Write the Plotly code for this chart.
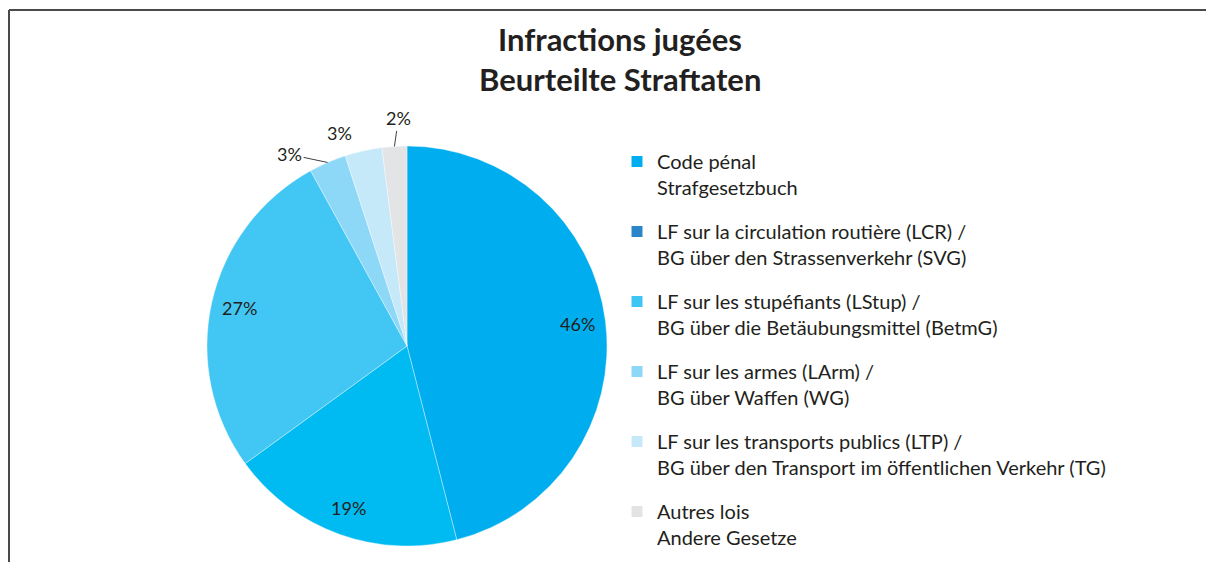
import math
import plotly.graph_objects as go

# ---- data ----
categories = [
    "Code pénal<br>Strafgesetzbuch",
    "LF sur la circulation routière (LCR) /<br>BG über den Strassenverkehr (SVG)",
    "LF sur les stupéfiants (LStup) /<br>BG über die Betäubungsmittel (BetmG)",
    "LF sur les armes (LArm) /<br>BG über Waffen (WG)",
    "LF sur les transports publics (LTP) /<br>BG über den Transport im öffentlichen Verkehr (TG)",
    "Autres lois<br>Andere Gesetze",
]
values = [46, 19, 27, 3, 3, 2]
pct_labels = ["46%", "19%", "27%", "3%", "3%", "2%"]

# ---- styles ----
slice_colors = ["#00AEEF", "#00BBF1", "#42C7F4", "#8DD7F7", "#C6E9FA", "#E3E4E5"]
legend_colors = ["#00AEEF", "#2A86C8", "#3EC5F3", "#8DD7F7", "#C6E9FA", "#E2E3E4"]
# label offsets (px) for the small slices: (dx, dy, show_leader)
small_offsets = {3: (-38, -8, True), 4: (-24, -18, False), 5: (4, -28, True)}

# page has an 8px body margin: figure is drawn from (8, 8)
OFF = 8
W, H = 1206, 554
FONT = "Lato"
TXT = "#231F20"


def px(xr):
    return (xr - OFF) / W


def py(yr):
    return 1 - (yr - OFF) / H


# pie placement (reference screen pixels)
cx_px, cy_px, R_px = 407, 346, 200
dom_x = [px(cx_px - R_px), px(cx_px + R_px)]
dom_y = [py(cy_px + R_px), py(cy_px - R_px)]

fig = go.Figure()
fig.add_trace(go.Pie(
    labels=categories,
    values=values,
    sort=False,
    direction="clockwise",
    rotation=0,
    marker=dict(colors=slice_colors, line=dict(color="rgba(255,255,255,0.6)", width=0.6)),
    textinfo="none",
    hoverinfo="label+percent",
    showlegend=False,
    domain=dict(x=dom_x, y=dom_y),
))

# legend entries (separate so legend colours match the reference)
for i, (name, col) in enumerate(zip(categories, legend_colors)):
    fig.add_trace(go.Scatter(
        x=[None], y=[None], mode="markers", name=name,
        marker=dict(symbol="square", size=11, color=col),
        legendgroup=f"g{i}", showlegend=True, hoverinfo="skip",
    ))

# percentage labels derived from the data
total = sum(values)
cx_p = (dom_x[0] + dom_x[1]) / 2
cy_p = (dom_y[0] + dom_y[1]) / 2
cum = 0
annotations = []
lab_font = dict(family=FONT, size=18, color=TXT)
for i, v in enumerate(values):
    mid = (cum + v / 2) / total * 2 * math.pi
    cum += v
    if i not in small_offsets:
        rf = 0.86
        annotations.append(dict(
            x=cx_p + rf * R_px * math.sin(mid) / W,
            y=cy_p + rf * R_px * math.cos(mid) / H,
            xref="paper", yref="paper", text=pct_labels[i], showarrow=False,
            xanchor="center", yanchor="middle", font=lab_font,
        ))
    else:
        dx, dy, leader = small_offsets[i]
        ex = cx_p + R_px * math.sin(mid) / W
        ey = cy_p + R_px * math.cos(mid) / H
        if leader:
            annotations.append(dict(
                x=ex, y=ey, xref="paper", yref="paper", text=pct_labels[i],
                showarrow=True, ax=dx, ay=dy, arrowhead=0, arrowwidth=1,
                arrowcolor="#404040", standoff=0, font=lab_font,
            ))
        else:
            annotations.append(dict(
                x=ex, y=ey, xref="paper", yref="paper", text=pct_labels[i],
                showarrow=False, xshift=dx, yshift=-dy,
                xanchor="center", yanchor="middle", font=lab_font,
            ))

# title lines
title_font = dict(family=FONT, size=31, color=TXT)
annotations.append(dict(x=px(620), y=py(39), xref="paper", yref="paper",
                        xanchor="center", yanchor="middle",
                        text="<b>Infractions jugées</b>", showarrow=False, font=title_font))
annotations.append(dict(x=px(620), y=py(79), xref="paper", yref="paper",
                        xanchor="center", yanchor="middle",
                        text="<b>Beurteilte Straftaten</b>", showarrow=False, font=title_font))

fig.update_layout(
    width=W, height=H,
    margin=dict(l=0, r=0, t=0, b=0),
    paper_bgcolor="white", plot_bgcolor="white",
    xaxis=dict(visible=False), yaxis=dict(visible=False),
    annotations=annotations,
    legend=dict(
        x=px(617), y=py(142), xanchor="left", yanchor="top",
        valign="top", tracegroupgap=15,
        font=dict(family=FONT, size=20, color=TXT),
        bgcolor="rgba(0,0,0,0)",
    ),
    shapes=[
        dict(type="line", xref="paper", yref="paper", x0=px(9), x1=1, y0=py(10), y1=py(10),
             line=dict(color="#4A4A4A", width=2)),
        dict(type="line", xref="paper", yref="paper", x0=px(9), x1=px(9), y0=0, y1=py(10),
             line=dict(color="#4A4A4A", width=2)),
    ],
)

fig.write_html("out.html")
